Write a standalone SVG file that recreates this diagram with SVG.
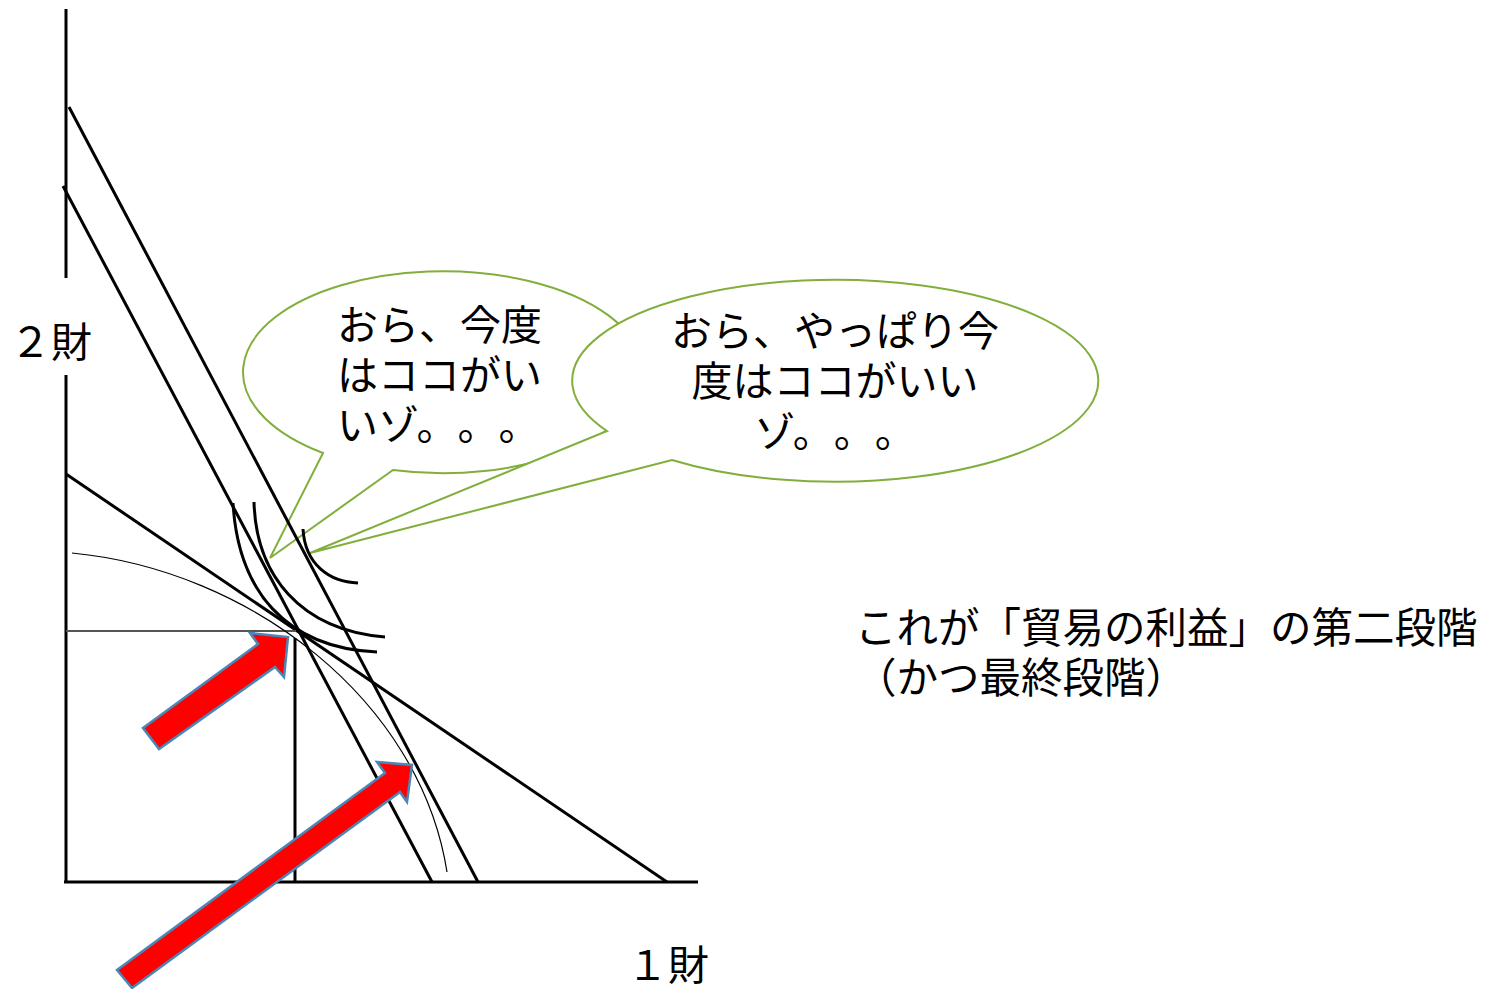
<svg xmlns="http://www.w3.org/2000/svg" width="1510" height="989" viewBox="0 0 1510 989">
<style>
.bub{fill:#fff;stroke:#82ae3c;stroke-width:2;stroke-linejoin:miter}
.ln{stroke:#000;stroke-width:3;fill:none;stroke-linecap:butt}
.thin{stroke:#000;stroke-width:1.2;fill:none}
.arr{fill:#ff0000;stroke:#4a86b8;stroke-width:2.5;stroke-linejoin:miter}
.t{font-family:"Noto Sans CJK JP","Liberation Sans",sans-serif;font-size:41px;fill:#000;text-spacing-trim:space-all}
</style>
<rect width="1510" height="989" fill="#fff"/>
<g id="bubble1">
<path class="bub" d="M323,453 A200,101 0 1 1 393,470 L270,558 Z"/>
</g>
<g id="bubble2">
<path class="bub" d="M607,431 A263,101 0 1 1 672,460 L310,553 Z"/>
</g>
<g id="connectors">
<line class="ln" x1="66" y1="9" x2="66" y2="278"/>
<line class="ln" x1="66" y1="375" x2="66" y2="883"/>
<line class="ln" x1="64" y1="882" x2="698" y2="882"/>
<line class="ln" x1="69" y1="107" x2="478" y2="882"/>
<line class="ln" x1="63" y1="186" x2="432" y2="882"/>
<line class="ln" x1="66" y1="474" x2="667" y2="882"/>
<line x1="66" y1="631" x2="296" y2="631" stroke="#555" stroke-width="2"/>
<line class="ln" x1="295" y1="638" x2="295" y2="882"/>
<path class="thin" d="M72,553 C250,570 420,700 447,872"/>
<path class="ln" d="M233,503 C238,590 285,648 377,652"/>
<path class="ln" d="M254,502 C256,575 300,630 385,637"/>
<path class="ln" d="M303,529 C305,565 330,582 358,583"/>
</g>
<g id="arrow1">
<polygon class="arr" points="143,728 258,644 250,633 288,637 284,677 275,667 159,749"/>
</g>
<g id="arrow2">
<polygon class="arr" points="117,970 385,773 377,762 412,765 407,802 400,792 132,988"/>
</g>
<g id="texts">
<text class="t" x="337" y="340">おら、今度</text>
<text class="t" x="337" y="390">はココがい</text>
<text class="t" x="337" y="440">いゾ。。。</text>
<text class="t" x="835" y="346" text-anchor="middle">おら、やっぱり今</text>
<text class="t" x="835" y="396" text-anchor="middle">度はココがいい</text>
<text class="t" x="835" y="447" text-anchor="middle">ゾ。。。</text>
<text class="t" x="855" y="643" style="font-size:41.5px">これが「貿易の利益」の第二段階</text>
<text class="t" x="855" y="693" style="font-size:41.5px">（かつ最終段階）</text>
<text class="t" x="10" y="357">２財</text>
<text class="t" x="627" y="980">１財</text>
</g>
</svg>
